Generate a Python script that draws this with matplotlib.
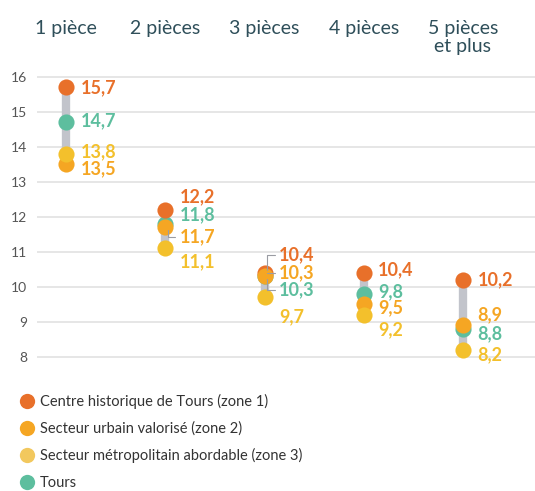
import matplotlib
matplotlib.use("Agg")
import matplotlib.pyplot as plt
from matplotlib.lines import Line2D

plt.rcParams['font.family'] = ['Lato', 'DejaVu Sans']

# ---- data ----
categories = ["1 pièce", "2 pièces", "3 pièces", "4 pièces", "5 pièces\net plus"]
zone1 = [15.7, 12.2, 10.4, 10.4, 10.2]   # Centre historique de Tours (zone 1)
zone2 = [13.5, 11.7, 10.3, 9.5, 8.9]     # Secteur urbain valorisé (zone 2)
zone3 = [13.8, 11.1, 9.7, 9.2, 8.2]      # Secteur métropolitain abordable (zone 3)
tours = [14.7, 11.8, 10.3, 9.8, 8.8]     # Tours
series_names = ["Centre historique de Tours (zone 1)",
                "Secteur urbain valorisé (zone 2)",
                "Secteur métropolitain abordable (zone 3)",
                "Tours"]
yticks = [8, 9, 10, 11, 12, 13, 14, 15, 16]

# ---- layout (label positions, to avoid overlaps) ----
lab_y = {
    "z1": [15.69, 12.57, 10.90, 10.47, 10.20],
    "tr": [14.73, 12.04, 9.90, 9.85, 8.66],
    "z2": [13.36, 11.42, 10.38, 9.38, 9.19],
    "z3": [13.86, 10.71, 9.14, 8.76, 8.04],
}
leaders = {("z2", 1), ("z1", 2), ("z2", 2), ("tr", 2)}

C1 = "#E8702A"
C2 = "#F5A623"
C3 = "#F3C02C"
C3L = "#F2C85E"
CT = "#5DBE9E"
GRAY = "#C2C4CB"

fig = plt.figure(figsize=(5.35, 4.91), dpi=100)
ax = fig.add_axes([37/535, 1 - 367/491, 1 - 37/535, 301/491])

x = list(range(len(categories)))
ax.set_xlim(-0.292, 4.725)
ax.set_ylim(7.7, 16.3)

for i in x:
    vals = [zone1[i], zone2[i], zone3[i], tours[i]]
    ax.plot([i, i], [min(vals), max(vals)], color=GRAY, lw=6, solid_capstyle='butt', zorder=2)

ms = 135
ax.scatter(x, tours, s=ms, color=CT, zorder=3, linewidths=0)
ax.scatter(x, zone1, s=ms, color=C1, zorder=4, linewidths=0)
ax.scatter(x, zone2, s=ms, color=C2, zorder=5, linewidths=0)
ax.scatter(x, zone3, s=ms, color=C3, zorder=6, linewidths=0)

def fmt(v):
    return f"{v:.1f}".replace('.', ',')

dx = 0.145
for key, vals, col in [("z1", zone1, C1), ("tr", tours, CT),
                       ("z2", zone2, C2), ("z3", zone3, C3)]:
    for i in x:
        ly = lab_y[key][i]
        if (key, i) in leaders:
            ax.annotate(fmt(vals[i]), xy=(i + 0.03, vals[i]), xytext=(i + dx, ly),
                        ha='left', va='center', color=col, fontsize=13, fontweight='bold',
                        arrowprops=dict(arrowstyle='-', color='#9A9CA3', lw=0.8,
                                        shrinkA=1, shrinkB=2,
                                        connectionstyle="angle,angleA=180,angleB=90,rad=0"),
                        zorder=7)
        else:
            ax.text(i + dx, ly, fmt(vals[i]), ha='left', va='center', color=col,
                    fontsize=13, fontweight='bold', zorder=7)

ax.set_yticks(yticks)
ax.set_yticklabels([str(t) for t in yticks])
ax.tick_params(axis='y', length=0, pad=7, labelsize=10, labelcolor='#555555')
ax.set_xticks([])
ax.grid(axis='y', color='#E2E2E2', lw=1.2, zorder=0)
ax.set_axisbelow(True)
for s in ax.spines.values():
    s.set_visible(False)

# category headers
for i, c in enumerate(categories):
    fig.text((37 + (i + 0.292) * 99.25) / 535, 1 - 20/491, c, ha='center', va='top',
             fontsize=14, color='#2F4F5A', linespacing=1.05)

# legend
handles = [Line2D([], [], marker='o', ls='', color=c, markersize=11, markeredgewidth=0)
           for c in [C1, C2, C3L, CT]]
fig.legend(handles, series_names, loc='upper left', bbox_to_anchor=(11/535, 1 - 388/491),
           frameon=False, fontsize=10.5, handletextpad=0.2, labelspacing=0.86,
           labelcolor='#333333', borderaxespad=0, handlelength=1.4)

fig.savefig("out.png", dpi=100)
